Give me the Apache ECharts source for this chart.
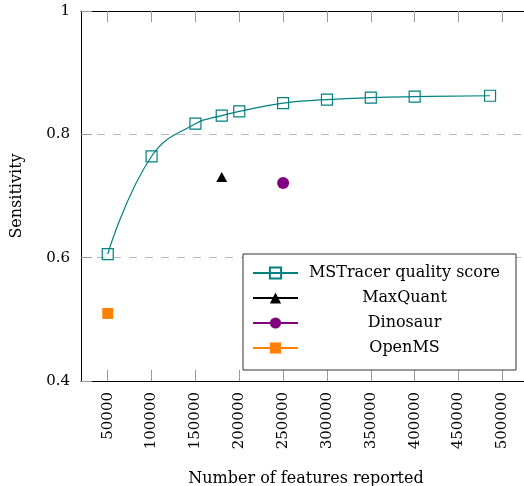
<!DOCTYPE html>
<html>
<head>
<meta charset="utf-8">
<script src="https://cdn.jsdelivr.net/npm/echarts@6/dist/echarts.min.js"></script>
<style>html,body{margin:0;padding:0;background:#fff}#c{width:524px;height:486px}</style>
</head>
<body>
<div id="c"></div>
<script>
const msX = [50000, 100000, 150000, 180000, 200000, 250000, 300000, 350000, 400000, 486000];
const msY = [0.6057, 0.7644, 0.8173, 0.8303, 0.8372, 0.8507, 0.8562, 0.8594, 0.8610, 0.8626];
const maxquant = [[180000, 0.731]];
const dinosaur = [[250000, 0.7212]];
const openms = [[50000, 0.5096]];
const xTicks = [50000, 100000, 150000, 200000, 250000, 300000, 350000, 400000, 450000, 500000];
const yTicks = [0.4, 0.6, 0.8, 1];

const FONT = 'DejaVu Serif';
const teal = '#008080', purple = '#800080', orange = '#ff8000';

const chart = echarts.init(document.getElementById('c'), null, {renderer: 'canvas'});
const msData = msX.map((x, i) => [x, msY[i]]);

const xCommon = {
  type: 'value', min: 19500, max: 532700,
  axisLine: {show: true, lineStyle: {color: '#000', width: 1}},
  splitLine: {show: false}
};

chart.setOption({
  animation: false,
  backgroundColor: '#fff',
  textStyle: {fontFamily: FONT},
  grid: {left: 81, top: 11, width: 450, height: 370, containLabel: false, outerBoundsMode: 'none'},
  xAxis: [
    Object.assign({}, xCommon, {
      position: 'bottom',
      name: 'Number of features reported',
      nameLocation: 'middle', nameGap: 90,
      nameTextStyle: {fontFamily: FONT, fontSize: 16, color: '#000'},
      axisTick: {show: true, inside: true, length: 11, customValues: xTicks, lineStyle: {color: '#999', width: 1}},
      axisLabel: {show: true, rotate: 90, margin: 11, customValues: xTicks, fontFamily: FONT, fontSize: 15, color: '#000', formatter: v => String(v)}
    }),
    Object.assign({}, xCommon, {
      position: 'top',
      axisTick: {show: true, inside: true, length: 11, customValues: xTicks, lineStyle: {color: '#999', width: 1}},
      axisLabel: {show: false}
    })
  ],
  yAxis: {
    type: 'value', min: 0.4, max: 1, interval: 0.2,
    name: 'Sensitivity', nameLocation: 'middle', nameGap: 56, nameRotate: 90,
    nameTextStyle: {fontFamily: FONT, fontSize: 16, color: '#000'},
    axisLine: {show: true, lineStyle: {color: '#000', width: 1}},
    axisTick: {show: true, inside: true, length: 11, lineStyle: {color: '#999'}},
    axisLabel: {margin: 11, fontFamily: FONT, fontSize: 15, color: '#000',
      formatter: v => { const r = Math.round(v * 10) / 10; return r === 1 ? '1' : r.toFixed(1); }},
    splitLine: {show: true, lineStyle: {color: '#bbb', type: [8, 8], width: 1}}
  },
  legend: {
    orient: 'vertical', left: 243, top: 254,
    padding: [11, 10, 14, 9],
    itemWidth: 45, itemHeight: 14, itemGap: 9,
    borderColor: '#333', borderWidth: 1, backgroundColor: '#fff',
    formatter: n => '{c|' + n + '}',
    textStyle: {fontFamily: FONT, fontSize: 16, color: '#000', lineHeight: 14,
      rich: {c: {width: 203, height: 14, lineHeight: 14, align: 'center', fontFamily: FONT, fontSize: 16, color: '#000'}}},
    data: ['MSTracer quality score', 'MaxQuant', 'Dinosaur', 'OpenMS']
  },
  series: [
    {
      name: 'MSTracer quality score', type: 'line', data: msData, smooth: 0.45,
      symbol: 'rect', symbolSize: 11,
      lineStyle: {color: teal, width: 1.2},
      itemStyle: {color: 'rgba(255,255,255,0)', borderColor: teal, borderWidth: 1.2},
      z: 3
    },
    {
      name: 'MaxQuant', type: 'line', data: maxquant,
      symbol: 'triangle', symbolSize: [11, 10],
      lineStyle: {color: '#000', width: 1.2}, itemStyle: {color: '#000'}
    },
    {
      name: 'Dinosaur', type: 'line', data: dinosaur,
      symbol: 'circle', symbolSize: 12,
      lineStyle: {color: purple, width: 1.2}, itemStyle: {color: purple}
    },
    {
      name: 'OpenMS', type: 'line', data: openms,
      symbol: 'rect', symbolSize: 11,
      lineStyle: {color: orange, width: 1.2}, itemStyle: {color: orange}
    }
  ]
});
</script>
</body>
</html>
